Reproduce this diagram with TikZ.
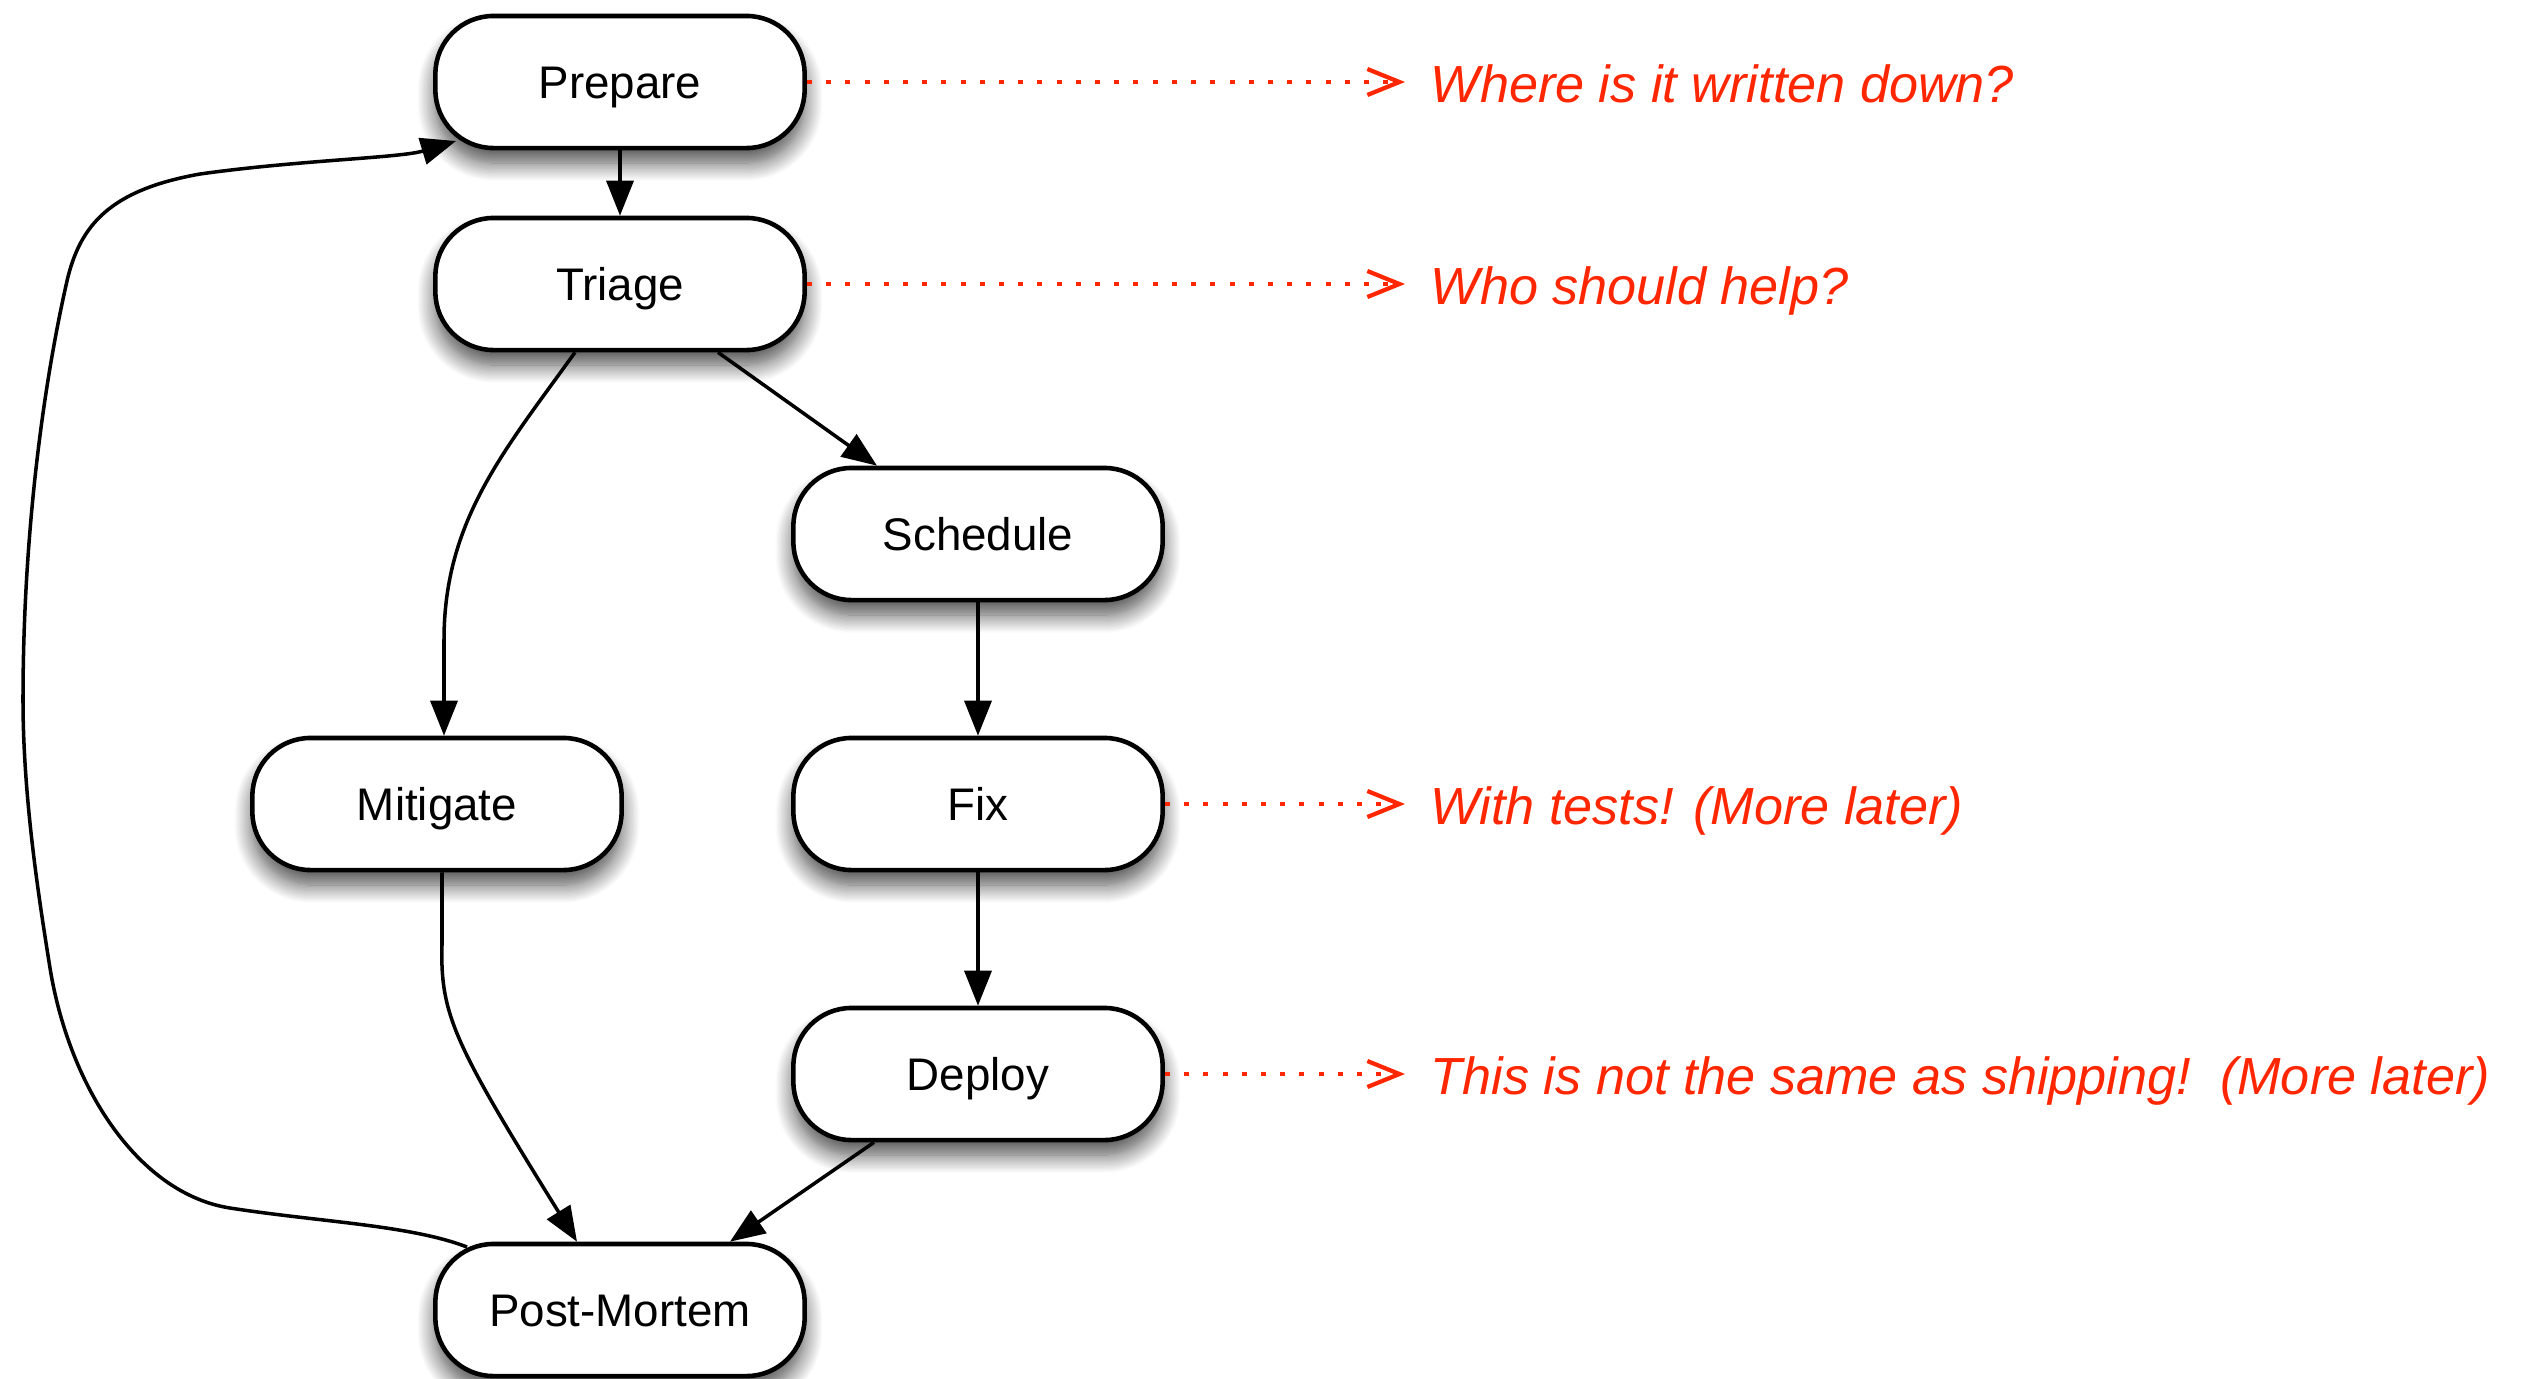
\documentclass[tikz,border=0pt]{standalone}
\usepackage{fontspec}
\setmainfont{Liberation Sans}
\usetikzlibrary{arrows.meta,calc,shadows.blur}
\definecolor{noteRed}{RGB}{255,38,0}
\begin{document}
\begin{tikzpicture}[x=0.01cm,y=-0.01cm,
  stage/.style={draw=black, line width=1.3pt, fill=white, rounded corners=0.58cm,
    minimum width=3.69cm, minimum height=1.32cm, inner sep=0pt,
    font=\fontsize{13}{15}\selectfont, text height=0.33cm, text depth=0cm,
    blur shadow={shadow xshift=0pt, shadow yshift=-0.15cm, shadow blur radius=0.18cm,
      shadow blur steps=14, shadow opacity=70}},
  flow/.style={line width=1.0pt, -{Triangle[length=0.35cm,width=0.27cm]}},
  hint/.style={noteRed, line width=1.2pt, dash pattern=on 0.05cm off 0.142cm,
    -{Straight Barb[length=0.32cm,width=0.26cm,line width=1.2pt]}},
  note/.style={text=noteRed, font=\fontsize{14.85}{18}\selectfont\itshape, inner sep=0pt, anchor=base west}]
\useasboundingbox (0,0) rectangle (2523,1378);

% stages
\node[stage] (Prepare) at (620,82) {Prepare};
\node[stage] (Triage) at (620,284) {Triage};
\node[stage] (Schedule) at (978,534) {Schedule};
\node[stage] (Mitigate) at (437,804) {Mitigate};
\node[stage] (Fix) at (978,804) {Fix};
\node[stage] (Deploy) at (978,1074) {Deploy};
\node[stage] (PM) at (620,1310) {Post-Mortem};

% notes
\node[note] (n1) at (1430,102) {Where is it written down?};
\node[note] (n2) at (1430,304) {Who should help?};
\node[note] (n3) at (1430,824) {With tests! (More later)};
\node[note] (n4) at (1430,1094) {This is not the same as shipping!\ \ (More later)};
\coordinate (t1) at (1405,82);
\coordinate (t2) at (1405,284);
\coordinate (t3) at (1405,804);
\coordinate (t4) at (1405,1074);

% flow connectors
\draw[flow] (Prepare.south) -- (Triage.north);
\draw[flow] ($(Triage.south)+(98,0)$) -- ($(Schedule.north)+(-101,0)$);
\draw[flow] ($(Triage.south)+(-45,0)$) .. controls (505,450) and (444,520) .. (444,640) -- ($(Mitigate.north)+(7,0)$);
\draw[flow] (Schedule.south) -- (Fix.north);
\draw[flow] (Fix.south) -- (Deploy.north);
\draw[flow] ($(Mitigate.south)+(5,0)$) -- (442,945) .. controls (440,1015) and (455,1045) .. ($(PM.north)+(-43,0)$);
\draw[flow] ($(Deploy.south)+(-104,0)$) -- ($(PM.north)+(110,0)$);
\draw[flow] ($(PM.center)+(-153,-63)$) .. controls (410,1225) and (320,1222) .. (230,1208)
   .. controls (140,1194) and (70,1090) .. (50,968)
   .. controls (40,905) and (23,800) .. (23,700)
   .. controls (23,550) and (40,400) .. (67,281)
   .. controls (80,225) and (110,190) .. (200,174)
   .. controls (300,160) and (400,158) .. ($(Prepare.center)+(-164,59)$);

% hint connectors
\draw[hint] (Prepare.east) -- (t1);
\draw[hint] (Triage.east) -- (t2);
\draw[hint] (Fix.east) -- (t3);
\draw[hint] (Deploy.east) -- (t4);
\end{tikzpicture}
\end{document}
